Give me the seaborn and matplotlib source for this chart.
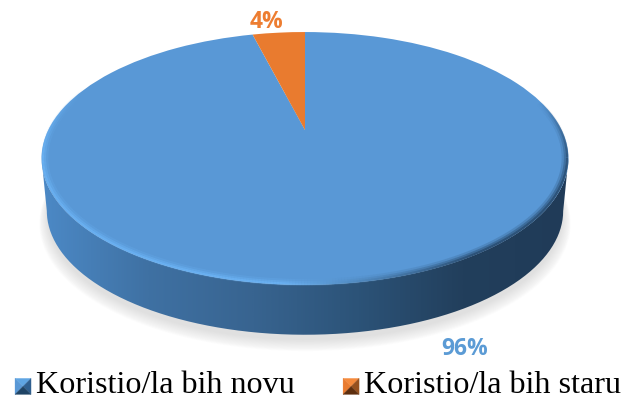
import numpy as np
import seaborn as sns
import matplotlib
matplotlib.use("Agg")
import matplotlib.pyplot as plt
from matplotlib.collections import LineCollection
from matplotlib.colors import LinearSegmentedColormap, to_rgb
from matplotlib.legend_handler import HandlerBase
from matplotlib.patches import Patch, Polygon, PathPatch
from matplotlib.path import Path
from matplotlib.transforms import Transform

# ---- data ----
categories = ["Koristio/la bih novu", "Koristio/la bih staru"]
values = [96, 4]
face_colors = ["#5998d6", "#e97b2f"]
legend_dark = ["#1f4466", "#5e2e0e"]
legend_side = ["#2f5f8f", "#96501e"]
legend_light = ["#5fa5e3", "#f58a3c"]
side_stops = ["#4c89c6", "#3f71a3", "#386490", "#2c5378", "#223f5c", "#203b58"]

sns.set_theme(style="white")
plt.rcParams["font.family"] = ["Liberation Serif", "DejaVu Serif"]

fig = plt.figure(figsize=(6.21, 4.01), dpi=100, facecolor="white")
ax = fig.add_axes([0, 0, 1, 1])

CX, CY = 305.0, 130.0
K, A, W = 0.225, 120.0, 256.7


class Perspective(Transform):
    """Tilted-disc projection of the unit pie into pixel-like axes coordinates."""
    input_dims = output_dims = 2

    def __init__(self, scale=1.0, dy=0.0):
        super().__init__()
        self.scale, self.dy = scale, dy

    def transform_non_affine(self, xy):
        xy = np.asarray(xy, dtype=float)
        d = 1 + K * xy[:, 1]
        return np.column_stack((CX + self.scale * W * xy[:, 0] / d,
                                CY - self.scale * A * xy[:, 1] / d + self.dy))


top = Perspective()
low = Perspective(0.98, 53.0)


def ring(tr, a0, a1, n=240, r=1.0):
    t = np.linspace(a0, a1, n)
    return tr.transform_non_affine(np.column_stack((r * np.cos(t), r * np.sin(t))))


a_left = np.pi + np.arcsin(K)
a_right = 2 * np.pi - np.arcsin(K)

# soft drop shadow around the lower edge
for i in range(14):
    s = 0.975 + 0.0024 * (14 - i)
    sh = ring(Perspective(s, 58.0 + 0.5 * (14 - i)), 0, 2 * np.pi)
    ax.add_patch(Polygon(sh, closed=True, fc="#909090", ec="none", alpha=0.018, zorder=1))

# side wall with a horizontal gradient
side_poly = np.vstack((ring(top, a_left, a_right), ring(low, a_right, a_left)))
cmap = LinearSegmentedColormap.from_list("side", side_stops)
grad = np.linspace(0, 1, 512)[None, :]
im = ax.imshow(grad, cmap=cmap, extent=(42, 569, 345, 150), aspect="auto", zorder=2)
clip = PathPatch(Path(side_poly, closed=False), transform=ax.transData, fc="none", ec="none")
ax.add_patch(clip)
im.set_clip_path(clip)

# pie face
wedges, _ = ax.pie(values, colors=face_colors, startangle=90, counterclock=False,
                   wedgeprops=dict(linewidth=0))
for w in wedges:
    w.set_transform(top + ax.transData)
    w.set_zorder(3)
    w.set_clip_on(False)

# bevel along the front rim, tapering out towards both ends
rim_light = np.array(to_rgb("#6fb8fa"))
rim_dark = np.array(to_rgb("#1f3c5a"))
a0, a1 = np.pi * 0.88, 2.08 * np.pi
for r, lw, alpha in [(0.988, 5.0, 0.18), (0.991, 3.0, 0.35), (0.995, 1.6, 0.55)]:
    pts = ring(top, a0, a1, 400, r)
    segs = np.stack((pts[:-1], pts[1:]), axis=1)
    f = np.clip((pts[:-1, 0] - 280) / 190, 0, 1)[:, None]
    u = np.linspace(0, 1, len(segs))
    fade = np.clip(np.minimum(u, 1 - u) / 0.15, 0, 1)[:, None]
    cols = np.hstack((rim_light * (1 - f) + rim_dark * f, alpha * fade))
    ax.add_collection(LineCollection(segs, colors=cols, linewidths=lw, zorder=4, capstyle="butt"))

# value labels
ax.text(465, 349, f"{values[0]}%", color="#5b9bd5", fontsize=16.5, fontweight="bold",
        family="Open Sans", ha="center", va="center", zorder=5)
ax.text(266, 22, f"{values[1]}%", color="#ed7d31", fontsize=16.5, fontweight="bold",
        family="Open Sans", ha="center", va="center", zorder=5)


class PyramidHandler(HandlerBase):
    def create_artists(self, legend, orig, xd, yd, width, height, fontsize, trans):
        dark, light, left, right = orig.pyr
        x0, x1 = -xd, -xd + width
        y0, y1 = -yd - 2.5, -yd + width - 2.5
        c = ((x0 + x1) / 2, (y0 + y1) / 2)
        tris = [([x0, y1], [x1, y1], light), ([x0, y0], [x0, y1], left),
                ([x1, y0], [x1, y1], right), ([x0, y0], [x1, y0], dark)]
        return [Polygon([p, q, c], closed=True, fc=col, ec=col, lw=0.2, transform=trans)
                for p, q, col in tris]


handles = []
for fc, d, l, sd in zip(face_colors, legend_dark, legend_light, legend_side):
    h = Patch(fc=fc)
    h.pyr = (d, l, fc, sd)
    handles.append(h)

ax.legend(handles, categories, ncol=2, frameon=False, fontsize=23.1,
          handler_map={Patch: PyramidHandler()},
          loc="lower left", bbox_to_anchor=(15 / 621, 0.002), borderaxespad=0, borderpad=0,
          handlelength=0.5, handleheight=0.5, handletextpad=0.16, columnspacing=1.5,
          labelcolor="black")

ax.set_xlim(0, 621)
ax.set_ylim(401, 0)
ax.set_aspect("auto")
ax.axis("off")
fig.savefig("out.png", dpi=100, facecolor="white")
